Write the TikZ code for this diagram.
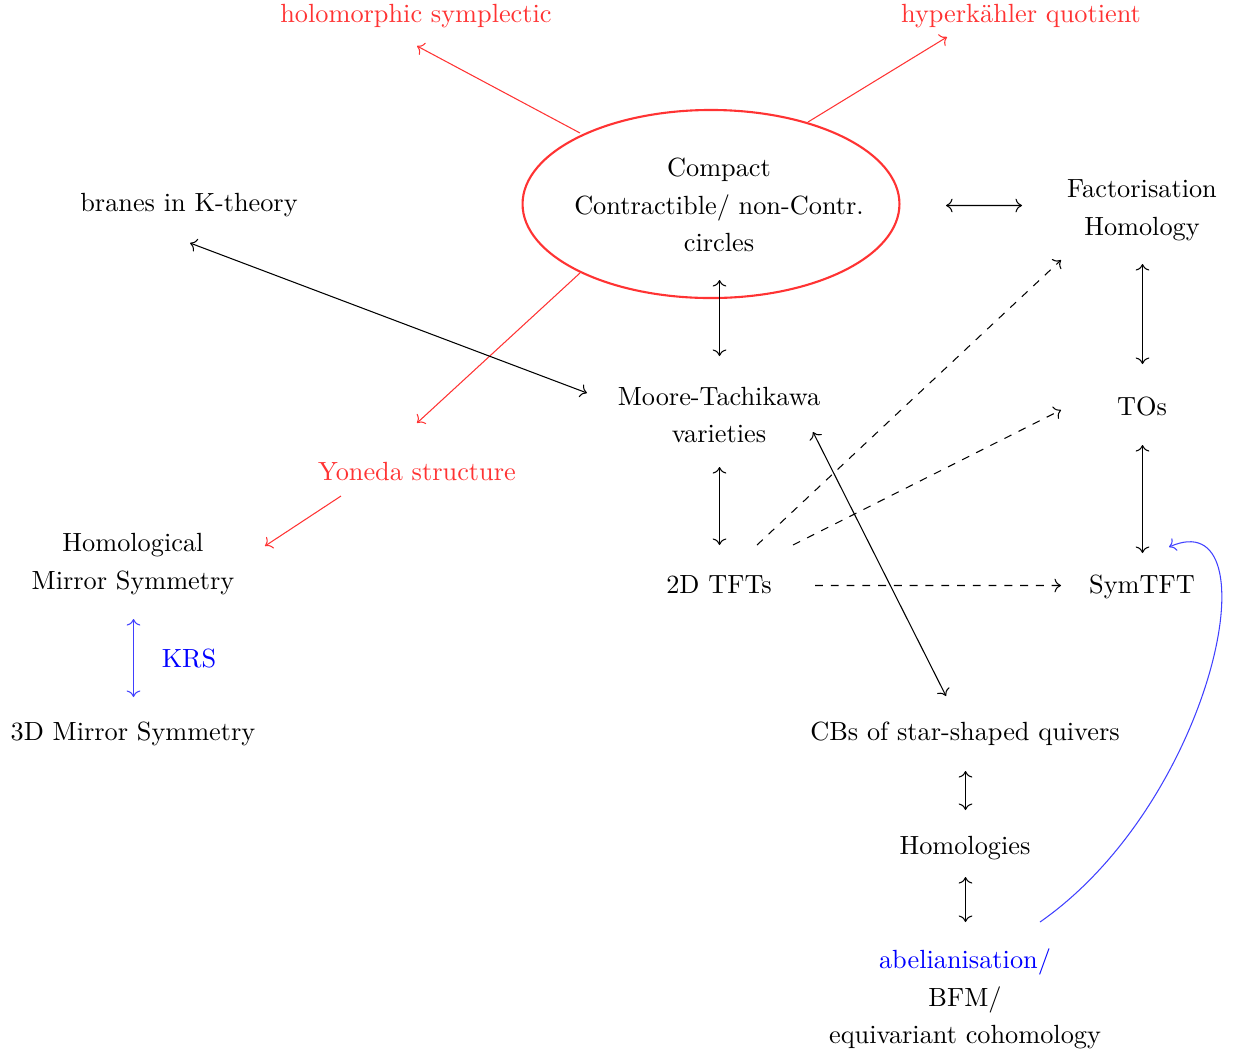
\documentclass[tikz,border=0pt]{standalone}
\usetikzlibrary{arrows.meta,shapes.geometric}
\newcommand\nodeoff[3]{([shift={(#2,#3)}]#1.center)}
\begin{document}
\begin{tikzpicture}[x=0.3802pt,y=-0.3802pt,
  >={Computer Modern Rightarrow},
  lbl/.style={inner sep=0pt, align=center, font=\fontsize{10}{14.3}\selectfont},
  rd/.style={red!80},
  bl/.style={blue},
  conn/.style={line width=0.4pt},
  dsh/.style={conn, dashed}]
\useasboundingbox (0,0) rectangle (1240,1054);
% nodes
\node[lbl, rd] (hol) at (416,16) {holomorphic symplectic};
\node[lbl, rd] (hyp) at (1021,16) {hyperk\"ahler quotient};
\node[draw=red!80, line width=0.8pt, ellipse, inner sep=0pt, minimum width=143.3pt, minimum height=71.5pt] (ell) at (711,204) {};
\node[lbl] (cpt) at (719,205) {Compact\\Contractible/ non-Contr.\\circles};
\node[lbl] (br) at (189,205) {branes in K-theory};
\node[lbl] (fac) at (1142,210) {Factorisation\\Homology};
\node[lbl] (mt) at (719,415) {Moore-Tachikawa\\varieties};
\node[lbl, rd] (yon) at (417,472) {Yoneda structure};
\node[lbl] (hms) at (133,564) {Homological\\Mirror Symmetry};
\node[lbl] (tft) at (719,585) {2D TFTs};
\node[lbl] (tos) at (1142,407) {TOs};
\node[lbl] (sym) at (1142,587) {SymTFT};
\node[lbl, bl] (krs) at (189,659) {KRS};
\node[lbl] (d3) at (133,734) {3D Mirror Symmetry};
\node[lbl] (cb) at (965,734) {CBs of star-shaped quivers};
\node[lbl] (hom) at (965,848) {Homologies};
\node[lbl] (ab) at (965,999) {\textcolor{blue}{abelianisation/}\\BFM/\\equivariant cohomology};
% red arrows
\draw[conn, rd, ->] \nodeoff{ell}{-131}{-71} -- \nodeoff{hol}{1}{30};
\draw[conn, rd, ->] \nodeoff{ell}{97}{-82} -- \nodeoff{hyp}{-74}{21};
\draw[conn, rd, ->] \nodeoff{ell}{-131}{69} -- \nodeoff{yon}{0}{-49};
\draw[conn, rd, ->] \nodeoff{yon}{-76}{24} -- \nodeoff{hms}{132}{-18};
% black arrows
\draw[conn, <->] \nodeoff{cpt}{227}{0.5} -- \nodeoff{fac}{-120}{-4.5};
\draw[conn, <->] \nodeoff{br}{1}{38} -- \nodeoff{mt}{-132}{-22};
\draw[conn, <->] \nodeoff{cpt}{0.5}{75} -- \nodeoff{mt}{0.5}{-59};
\draw[conn, <->] \nodeoff{mt}{0.5}{52} -- \nodeoff{tft}{0.5}{-40};
\draw[conn, <->] \nodeoff{mt}{94}{17} -- \nodeoff{cb}{-19}{-38};
\draw[conn, <->] \nodeoff{fac}{0.5}{54} -- \nodeoff{tos}{0.5}{-43};
\draw[conn, <->] \nodeoff{tos}{0.5}{38} -- \nodeoff{sym}{0.5}{-34};
\draw[conn, <->] \nodeoff{cb}{0.5}{37} -- \nodeoff{hom}{0.5}{-38};
\draw[conn, <->] \nodeoff{hom}{0.5}{29} -- \nodeoff{ab}{0.5}{-77};
% dashed arrows
\draw[dsh, ->] \nodeoff{tft}{38}{-40} -- \nodeoff{fac}{-81}{50};
\draw[dsh, ->] \nodeoff{tft}{74}{-40} -- \nodeoff{tos}{-81}{3};
\draw[dsh, ->] \nodeoff{tft}{96}{0.5} -- \nodeoff{sym}{-81}{-1.5};
% blue arrows
\draw[conn, blue!75, <->] \nodeoff{hms}{0.5}{55} -- \nodeoff{d3}{0.5}{-37};
\draw[conn, blue!75, ->] \nodeoff{ab}{75}{-77} .. controls (1215,800) and (1275,500) .. \nodeoff{sym}{27}{-40};
\end{tikzpicture}
\end{document}
